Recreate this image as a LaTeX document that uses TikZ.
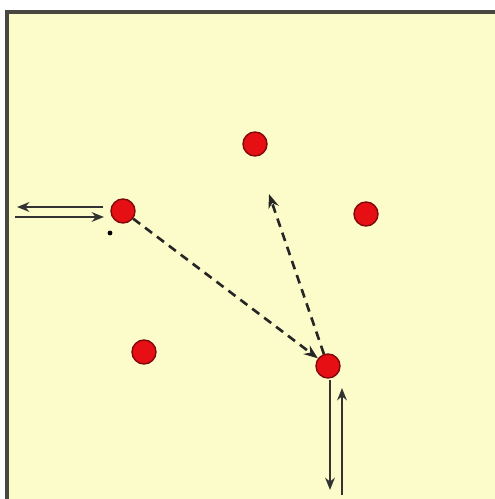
\documentclass[tikz,border=0pt]{standalone}
\usepackage{tikz}
\usetikzlibrary{arrows.meta,calc}

\definecolor{pad}{RGB}{252,252,202}
\definecolor{ballred}{RGB}{230,16,20}
\definecolor{framegray}{RGB}{72,72,64}

\tikzset{
  ball/.style = {circle, fill = ballred, draw = ballred!55!black, line width = 0.8pt, minimum size = 0.48cm, inner sep = 0pt},
  pass/.style = {-{Stealth[length = 8pt, width = 6pt]}, dashed, line width = 1.5pt, dash pattern = on 5pt off 3.5pt, black!85},
  run/.style = {-{Stealth[length = 7pt, width = 5.5pt]}, line width = 1.3pt, black!80}
}

\begin{document}
\begin{tikzpicture}[x = 0.02cm, y = -0.02cm]
        \useasboundingbox (0,0) rectangle (494,499);
        \path[fill = pad](7,12)rectangle(500,505);
        \draw[framegray, line width = 2pt](7,505)--(7,12)--(500,12); %枠
        \node[ball](a) at (123,211){};
        \node[ball](b) at (255,144){};
        \node[ball](c) at (366,214){};
        \node[ball](d) at (144,352){};
        \node[ball](e) at (328,366){};
        \fill(110,233)circle(2.4); %小さな点
        \coordinate(aL1) at (103,207);
        \coordinate(aL2) at (17,207);
        \coordinate(aR1) at (15,217);
        \coordinate(aR2) at (104,217);
        \draw[run](aL1)to(aL2); 
        \draw[run](aR1)to(aR2);
        \coordinate(eD1) at (330,380);
        \coordinate(eD2) at (330,490);
        \coordinate(eU1) at (342,495);
        \coordinate(eU2) at (342,388);
        \draw[run](eD1)to(eD2);
        \draw[run](eU1)to(eU2);
        \coordinate(tip) at (269,194);
        \draw[pass](a)to(e); %パス
        \draw[pass](e)to(tip);
    \end{tikzpicture}
\end{document}
